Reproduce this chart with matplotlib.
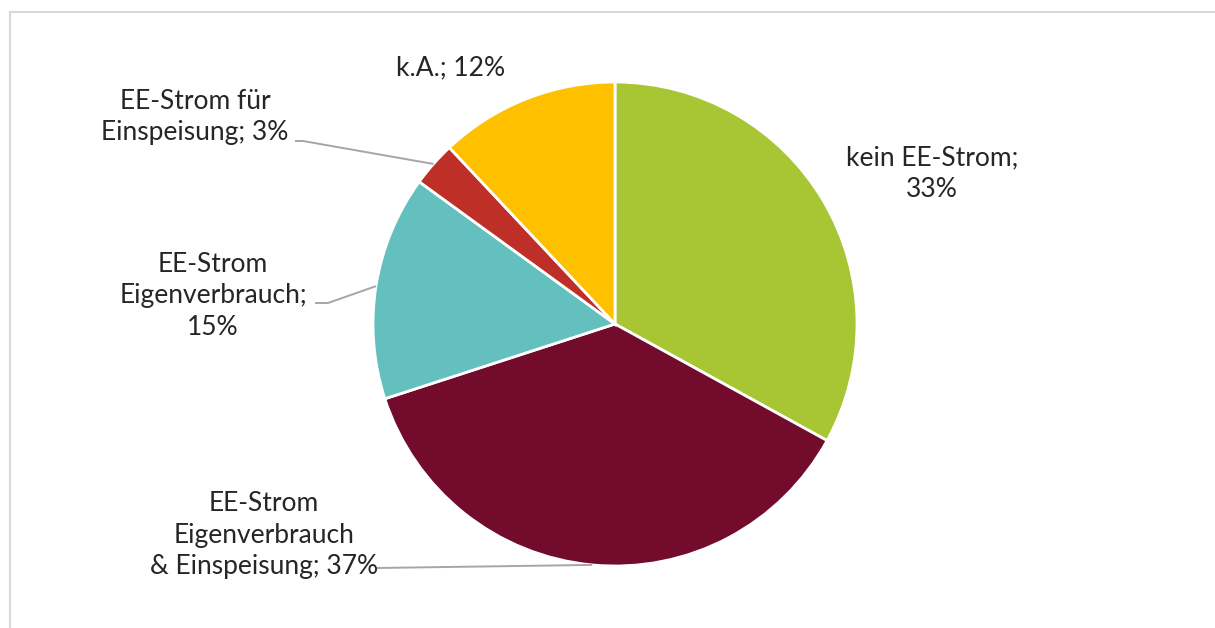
import numpy as np
import matplotlib
matplotlib.use("Agg")
import matplotlib.pyplot as plt
from matplotlib.lines import Line2D

# Shares of the answers (percent), clockwise from 12 o'clock
categories = [
    "kein EE-Strom",
    "EE-Strom\nEigenverbrauch\n& Einspeisung",
    "EE-Strom\nEigenverbrauch",
    "EE-Strom für\nEinspeisung",
    "k.A.",
]
shares = [33, 37, 15, 3, 12]
colors = ["#A8C634", "#720B2C", "#64C0BF", "#BE2F28", "#FFC000"]

label_texts = [
    "kein EE-Strom;\n33%",
    "EE-Strom\nEigenverbrauch\n& Einspeisung; 37%",
    "EE-Strom\nEigenverbrauch;\n15%",
    "EE-Strom für\nEinspeisung; 3%",
    "k.A.; 12%",
]

plt.rcParams["font.family"] = ["Lato", "DejaVu Sans"]

W, H = 1215, 628
fig = plt.figure(figsize=(W / 100, H / 100), dpi=100)
fig.patch.set_facecolor("white")

# Pie axes: centre at (615, 324) px, radius 242 px
cx, cy, r = 615, 324, 242
ax = fig.add_axes([(cx - r) / W, (H - cy - r) / H, 2 * r / W, 2 * r / H])

wedges, _ = ax.pie(
    shares, colors=colors, startangle=90, counterclock=False, radius=1,
    wedgeprops=dict(edgecolor="white", linewidth=2.0),
)
ax.set_xlim(-1, 1)
ax.set_ylim(-1, 1)
ax.set_aspect("equal")
ax.axis("off")

def px(x, y):
    return ((x - cx) / r, (cy - y) / r)

text_pos = [px(932, 174), px(264, 535), px(213, 296), px(195, 117), px(451, 68)]
for t, (x, y) in zip(label_texts, text_pos):
    ax.text(x, y, t, ha="center", va="center", fontsize=19, color="#262626",
            linespacing=1.32, clip_on=False)

def mid_point(w):
    a = np.deg2rad((w.theta1 + w.theta2) / 2)
    return np.cos(a), np.sin(a)

leader = dict(color="#A6A6A6", lw=1.4, clip_on=False, solid_capstyle="butt")
# leader lines: stub next to the label, then to the wedge edge
stubs = {
    1: [px(377, 568)],
    2: [px(315, 303), px(328, 303)],
    3: [px(295, 141), px(303, 141)],
}
for i, pts in stubs.items():
    mx, my = mid_point(wedges[i])
    xs = [p[0] for p in pts] + [mx]
    ys = [p[1] for p in pts] + [my]
    ax.plot(xs, ys, **leader)

# light chart frame
frame = dict(color="#D9D9D9", lw=1.5, transform=fig.transFigure)
fig.add_artist(Line2D([10 / W, 1.0], [1 - 12 / H, 1 - 12 / H], **frame))
fig.add_artist(Line2D([10 / W, 10 / W], [1 - 12 / H, 0.0], **frame))

fig.savefig("out.png", dpi=100, facecolor="white")
